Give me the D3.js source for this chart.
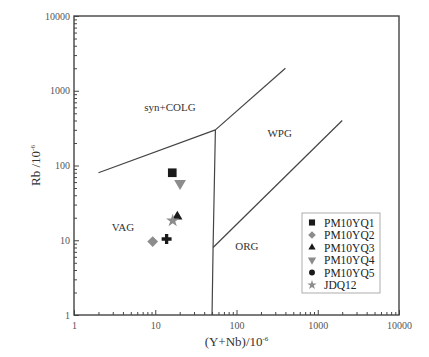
<!DOCTYPE html>
<html>
<head>
<meta charset="utf-8">
<script src="https://cdn.jsdelivr.net/npm/d3@7"></script>
<style>
  html, body { margin: 0; padding: 0; background: #fff; }
  svg { display: block; font-family: "Liberation Serif", "DejaVu Serif", serif; }
</style>
</head>
<body>
<div id="chart"></div>
<script>
// Sample data: Y+Nb vs Rb (ppm)
var sampleNames = ['PM10YQ1', 'PM10YQ2', 'PM10YQ3', 'PM10YQ4', 'PM10YQ5', 'JDQ12'];
var yNbValues   = [16.2, 9.3, 18.7, 20.2, 13.8, 16.4];
var rbValues    = [80, 9.6, 20.7, 57.8, 10.4, 18.3];

// Pearce (1984) field boundaries
var boundaryLines = [
  [[2, 80], [55, 300]],
  [[55, 300], [51.5, 8], [50, 1]],
  [[55, 300], [400, 2000]],
  [[51.5, 8], [2000, 400]]
];
var fieldNames = ['syn+COLG', 'WPG', 'VAG', 'ORG'];
var fieldPos   = [[15.2, 600], [340, 270], [4.0, 15], [134, 8.4]];

var majorTicks = [1, 10, 100, 1000, 10000];
var tickLabels = ['1', '10', '100', '1000', '10000'];

(function () {
  'use strict';

  var width = 429, height = 357;
  var margin = { left: 74, top: 16, right: 30, bottom: 42 };
  var iw = width - margin.left - margin.right;
  var ih = height - margin.top - margin.bottom;

  var svg = d3.select('#chart').append('svg')
    .attr('width', width).attr('height', height);
  var g = svg.append('g')
    .attr('transform', 'translate(' + margin.left + ',' + margin.top + ')');

  var x = d3.scaleLog().domain([1, 10000]).range([0, iw]);
  var y = d3.scaleLog().domain([1, 10000]).range([ih, 0]);

  var minorTicks = [];
  [1, 10, 100, 1000].forEach(function (d) {
    for (var k = 2; k <= 9; k++) minorTicks.push(d * k);
  });

  var axisColor = '#444';
  var fmt = function (d) { return tickLabels[majorTicks.indexOf(d)]; };

  // minor ticks (inward)
  g.append('g').attr('transform', 'translate(0,' + ih + ')')
    .call(d3.axisBottom(x).tickValues(minorTicks).tickSize(-3).tickFormat(''))
    .call(function (s) { s.select('.domain').remove(); });
  g.append('g')
    .call(d3.axisLeft(y).tickValues(minorTicks).tickSize(-3).tickFormat(''))
    .call(function (s) { s.select('.domain').remove(); });

  // major ticks with labels
  var xAxis = g.append('g').attr('transform', 'translate(0,' + ih + ')')
    .call(d3.axisBottom(x).tickValues(majorTicks).tickSize(-5).tickPadding(7).tickFormat(fmt));
  var yAxis = g.append('g')
    .call(d3.axisLeft(y).tickValues(majorTicks).tickSize(-5).tickPadding(4).tickFormat(fmt));

  [xAxis, yAxis].forEach(function (a) {
    a.select('.domain').remove();
    a.selectAll('text').style('font-family', '"Liberation Serif", serif')
      .style('font-size', '10px').attr('fill', '#555');
  });
  g.selectAll('.tick line').attr('stroke', axisColor).attr('stroke-width', 1);

  // frame
  g.append('rect').attr('width', iw).attr('height', ih)
    .attr('fill', 'none').attr('stroke', axisColor).attr('stroke-width', 1.4);

  // boundaries
  var line = d3.line()
    .x(function (d) { return x(d[0]); })
    .y(function (d) { return y(d[1]); });
  boundaryLines.forEach(function (pts) {
    g.append('path').attr('d', line(pts))
      .attr('fill', 'none').attr('stroke', '#444').attr('stroke-width', 1.2);
  });

  // field labels
  fieldNames.forEach(function (n, i) {
    g.append('text')
      .attr('x', x(fieldPos[i][0])).attr('y', y(fieldPos[i][1]))
      .attr('text-anchor', 'middle').attr('dy', '0.35em')
      .style('font-size', '11px').attr('fill', '#333')
      .text(n);
  });

  // symbols
  var symbols = [
    { type: d3.symbolSquare, size: 75, color: '#1a1a1a', rot: 0 },
    { type: d3.symbolSquare, size: 58, color: '#8c8c8c', rot: 45 },
    { type: d3.symbolTriangle, size: 45, color: '#1a1a1a', rot: 0 },
    { type: d3.symbolTriangle, size: 60, color: '#8c8c8c', rot: 180 },
    { type: d3.symbolCross, size: 55, color: '#1a1a1a', rot: 0 },
    { type: d3.symbolStar, size: 55, color: '#8c8c8c', rot: 0 }
  ];

  sampleNames.forEach(function (n, i) {
    var s = symbols[i];
    g.append('path')
      .attr('d', d3.symbol().type(s.type).size(s.size)())
      .attr('transform', 'translate(' + x(yNbValues[i]) + ',' + y(rbValues[i]) + ') rotate(' + s.rot + ')')
      .attr('fill', s.color);
  });

  // legend
  var legend = g.append('g').attr('transform', 'translate(' + (302 - margin.left) + ',' + (213 - margin.top) + ')');
  legend.append('rect').attr('width', 78).attr('height', 80)
    .attr('fill', '#fff').attr('stroke', '#999').attr('stroke-width', 0.8);
  sampleNames.forEach(function (n, i) {
    var s = symbols[i];
    var ry = 9.5 + i * 12.5;
    legend.append('path')
      .attr('d', d3.symbol().type(i === 4 ? d3.symbolCircle : s.type).size(s.size * 0.5)())
      .attr('transform', 'translate(10,' + ry + ') rotate(' + s.rot + ')')
      .attr('fill', s.color);
    legend.append('text')
      .attr('x', 22).attr('y', ry).attr('dy', '0.35em')
      .style('font-size', '11.5px').attr('fill', '#222')
      .text(n);
  });

  // axis titles
  var xt = svg.append('text')
    .attr('x', margin.left + iw / 2).attr('y', 346)
    .attr('text-anchor', 'middle')
    .style('font-size', '13px').attr('fill', '#333')
    .text('(Y+Nb)/10');
  xt.append('tspan').attr('dy', '-5').style('font-size', '7px').text('-6');

  var yt = svg.append('text')
    .attr('transform', 'translate(40,' + (margin.top + ih / 2) + ') rotate(-90)')
    .attr('text-anchor', 'middle')
    .style('font-size', '13px').attr('fill', '#333')
    .text('Rb /10');
  yt.append('tspan').attr('dy', '-5').style('font-size', '7px').text('-6');
})();
</script>
</body>
</html>
